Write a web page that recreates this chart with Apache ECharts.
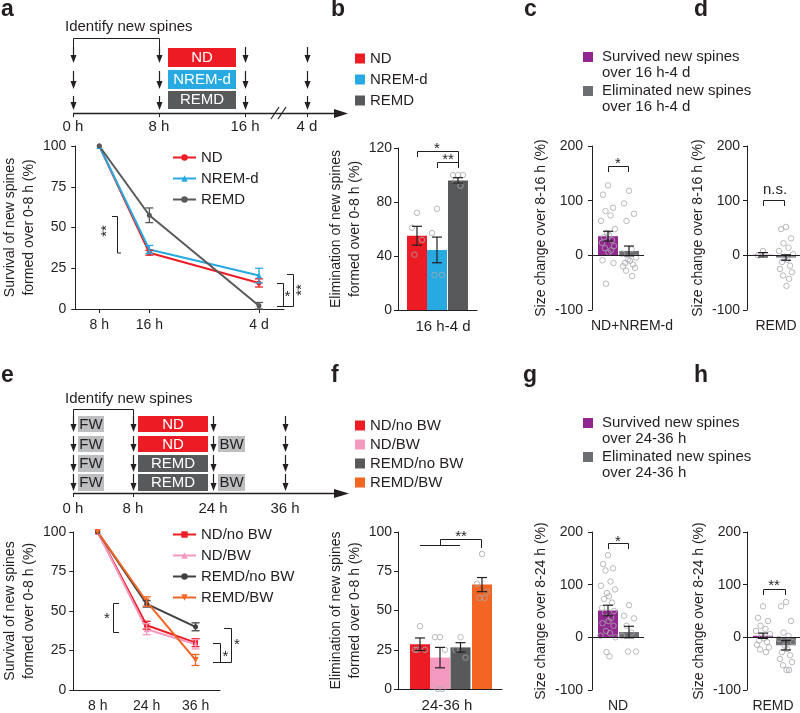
<!DOCTYPE html>
<html>
<head>
<meta charset="utf-8">
<script src="https://cdn.jsdelivr.net/npm/echarts@6.0.0/dist/echarts.min.js"></script>
<style>html,body{margin:0;padding:0;background:#fff;}#chart{width:800px;height:713px;}</style>
</head>
<body>
<div id="chart"></div>
<script>
// ================= DATA =================
// Panel a : survival of new spines
const timeA = ['8 h', '16 h', '4 d'];
const aND = [100, 34.5, 16];
const aNDErr = [0, 1.5, 2.5];
const aNREM = [100, 36.5, 20.5];
const aNREMErr = [0, 2.5, 4.5];
const aREMD = [100, 57.5, 2];
const aREMDErr = [0, 4.5, 2];
// Panel b : elimination 16 h-4 d
const groupsB = ['ND', 'NREM-d', 'REMD'];
const meanB = [55, 44.5, 96];
const errB = [7, 9.5, 2];
const dotsB_ND = [72, 61, 52, 41];
const dotsB_NREM = [75, 57, 26, 26];
const dotsB_REMD = [100, 100, 100, 96, 92];
const xLabelB = '16 h-4 d';
// Panel c : ND+NREM-d size change (survived, eliminated)
const meanC = [35, 8];
const errC = [9, 9];
const dotsC_surv = [128, 111, 87, 81, 73, 63, 48, 41, 37, 33, 28, 23, 17, 13, 9, 5, -9, -14, -52];
const dotsC_elim = [118, 95, 76, 63, 11, 3, -4, -8, -10, -14, -17, -20, -23, -28, -38];
const xLabelC = 'ND+NREM-d';
// Panel d : REMD size change
const meanD = [1, -4];
const errD = [4, 5];
const dotsD_surv = [8, 0];
const dotsD_elim = [52, 48, 31, 22, 14, 8, 2, -3, -8, -12, -19, -25, -31, -37, -43, -56];
const xLabelD = 'REMD';
// Panel e : survival with BW
const timeE = ['8 h', '24 h', '36 h'];
const namesE = ['ND/no BW', 'ND/BW', 'REMD/no BW', 'REMD/BW'];
const eNDno = [100, 41, 30];
const eNDnoErr = [0, 2.5, 2.5];
const eNDbw = [100, 38.5, 29];
const eNDbwErr = [0, 3.5, 3];
const eREMDno = [100, 54.5, 40];
const eREMDnoErr = [0, 2, 2.5];
const eREMDbw = [100, 56, 19];
const eREMDbwErr = [0, 3, 3.5];
// Panel f : elimination 24-36 h
const meanF = [28.5, 20, 26.5, 66.5];
const errF = [4, 6.5, 3, 4.5];
const dotsF_NDno = [40, 25, 25, 25];
const dotsF_NDbw = [33, 33, 25, 0, 0];
const dotsF_REMDno = [33, 25, 20];
const dotsF_REMDbw = [86, 67, 62, 58, 58];
const xLabelF = '24-36 h';
// Panel g : ND size change 8-24 h
const meanG = [51, 10];
const errG = [10, 11];
const dotsG_surv = [156, 139, 131, 127, 106, 98, 91, 84, 78, 73, 66, 56, 50, 47, 37, 31, 27, 22, 12, 8, 3, 0, -28, -36];
const dotsG_elim = [61, 41, 36, 22, 9, 3, -27, -27];
const xLabelG = 'ND';
// Panel h : REMD size change 8-24 h
const meanH = [3, -15];
const errH = [5, 9];
const dotsH_surv = [59, 37, 31, 22, 16, 12, 6, 3, -2, -6, -9, -14, -19, -23, -28];
const dotsH_elim = [67, 59, 31, 9, 3, -3, -9, -16, -22, -28, -34, -41, -47, -53, -62, -62];
const xLabelH = 'REMD';

// ================= STYLE / LAYOUT =================
const FF = "'Liberation Sans', Arial, Helvetica, sans-serif";
const INK = '#231f20';
const C_ND = '#ed1c24', C_NREM = '#27aae1', C_REMD = '#58595b', C_PUR = '#92278f', C_ELIM = '#6d6e71';
const C_PINK = '#f49ac1', C_BLK = '#414042', C_ORG = '#f26522', C_BOX = '#bcbec0', C_DOT = '#a7a9ac';
const JIT = [0, -5, 5, -2.5, 2.5, -7, 7, -1, 1, -4, 4, -6, 6, -3, 3, 0.5, -5.5, 5.5, -2, 2, -7.5, 7.5, -1.5, 1.5, -4.5, 4.5];

const grids = [
  {left: 67, top: 146, width: 217, height: 163},  // a
  {left: 398, top: 148, width: 79, height: 162},  // b
  {left: 592, top: 146, width: 52, height: 164},  // c
  {left: 747, top: 146, width: 53, height: 164},  // d
  {left: 66, top: 532, width: 154, height: 161},  // e
  {left: 398, top: 532, width: 104, height: 160}, // f
  {left: 592, top: 532, width: 52, height: 161},  // g
  {left: 747, top: 532, width: 53, height: 161}   // h
];
const posA = [25, 77, 191];
const posB = [19, 39, 60];
const posC = [16, 37];
const posD = [16, 39];
const posF = [22, 42, 62.5, 84];
const posG = [16, 37];
const posH = [16, 39];

function yAx(i, min, max, interval, name, gap, margin) {
  return {type: 'value', gridIndex: i, min, max, interval, name, nameLocation: 'middle', nameGap: gap, nameRotate: 90,
    nameTextStyle: {fontSize: 14, color: INK, fontFamily: FF, lineHeight: 19},
    axisLine: {show: true, onZero: false, lineStyle: {color: INK, width: 1}},
    axisTick: {show: true, length: 4, lineStyle: {color: INK, width: 1}},
    axisLabel: {fontSize: 14, color: INK, fontFamily: FF, margin},
    splitLine: {show: false}};
}
function xBar(i, width, labelPos, label, showLine, fs) {
  return {type: 'value', gridIndex: i, min: 0, max: width,
    axisLine: {show: showLine, onZero: false, lineStyle: {color: INK, width: 1}},
    axisTick: {show: false},
    axisLabel: {customValues: [labelPos], formatter: () => label, fontSize: fs || 14, color: INK, fontFamily: FF, margin: 9},
    splitLine: {show: false}};
}
function errSeries(i, data, color, half, w) {
  return {type: 'custom', xAxisIndex: i, yAxisIndex: i, data, silent: true, z: 6,
    renderItem: (p, api) => {
      const x = api.value(0), y = api.value(1), e = api.value(2);
      if (!e) return null;
      const t = api.coord([x, y + e]), b = api.coord([x, y - e]);
      const st = {stroke: color, lineWidth: w};
      return {type: 'group', children: [
        {type: 'line', shape: {x1: t[0], y1: t[1], x2: b[0], y2: b[1]}, style: st},
        {type: 'line', shape: {x1: t[0] - half, y1: t[1], x2: t[0] + half, y2: t[1]}, style: st},
        {type: 'line', shape: {x1: b[0] - half, y1: b[1], x2: b[0] + half, y2: b[1]}, style: st}
      ]};
    }};
}
function dotSeries(i, pos, arrays) {
  const data = [];
  arrays.forEach((arr, k) => arr.forEach((v, j) => data.push([pos[k] + JIT[j % JIT.length], v])));
  return {type: 'scatter', xAxisIndex: i, yAxisIndex: i, data, symbol: 'circle', symbolSize: 5.5, silent: true, z: 4,
    itemStyle: {color: 'rgba(255,255,255,0)', borderColor: C_DOT, borderWidth: 1}};
}
function barPanel(i, pos, means, errs, colors, names, dotArrays, zeroLine) {
  const out = [];
  means.forEach((m, k) => {
    const s = {type: 'bar', xAxisIndex: i, yAxisIndex: i, data: [[pos[k], m]], barWidth: 20, barGap: '-100%',
      itemStyle: {color: colors[k]}, z: 2, silent: true};
    if (names) s.name = names[k];
    if (zeroLine && k === 0) s.markLine = {silent: true, symbol: 'none', label: {show: false}, animation: false,
      lineStyle: {color: INK, type: 'solid', width: 1}, data: [{yAxis: 0}]};
    out.push(s);
  });
  out.push(dotSeries(i, pos, dotArrays));
  out.push(errSeries(i, pos.map((p, k) => [p, means[k], errs[k]]), INK, 5, 1.2));
  return out;
}
function lineSeries(i, name, xs, ys, errs, color, symbol, size, rot) {
  return [
    {type: 'line', name, xAxisIndex: i, yAxisIndex: i, data: xs.map((x, k) => [x, ys[k]]), symbol, symbolSize: size,
      symbolRotate: rot || 0, lineStyle: {width: 2, color}, itemStyle: {color}, z: 3, silent: true},
    errSeries(i, xs.map((x, k) => [x, ys[k], errs[k]]), color, 4, 1.3)
  ];
}

// ================= AXES =================
const yTitleSurv = 'Survival of new spines\nformed over 0-8 h (%)';
const yTitleElim = 'Elimination of new spines\nformed over 0-8 h (%)';
const xAxes = [
  {type: 'value', gridIndex: 0, min: 0, max: 217,
    axisLine: {onZero: false, lineStyle: {color: INK, width: 1}},
    axisTick: {customValues: posA, length: 4, lineStyle: {color: INK}},
    axisLabel: {customValues: posA, formatter: v => timeA[posA.indexOf(v)], fontSize: 14, color: INK, fontFamily: FF, margin: 9},
    splitLine: {show: false}},
  xBar(1, 79, 45, xLabelB, true, 15),
  xBar(2, 52, 40, xLabelC, false),
  xBar(3, 53, 29, xLabelD, false),
  {type: 'category', gridIndex: 4, data: timeE, boundaryGap: true,
    axisLine: {onZero: false, lineStyle: {color: INK, width: 1}},
    axisTick: {alignWithLabel: true, length: 4, lineStyle: {color: INK}},
    axisLabel: {fontSize: 14, color: INK, fontFamily: FF, margin: 9}},
  xBar(5, 104, 49, xLabelF, true, 15),
  xBar(6, 52, 26, xLabelG, false),
  xBar(7, 53, 26, xLabelH, false)
];
const yAxes = [
  yAx(0, 0, 100, 25, yTitleSurv, 31, 9),
  yAx(1, 0, 120, 40, yTitleElim, 30, 6),
  yAx(2, -100, 200, 100, 'Size change over 8-16 h (%)', 37, 9),
  yAx(3, -100, 200, 100, 'Size change over 8-16 h (%)', 36, 7),
  yAx(4, 0, 100, 25, yTitleSurv, 31, 7),
  yAx(5, 0, 100, 25, yTitleElim, 30, 6),
  yAx(6, -100, 200, 100, 'Size change over 8-24 h (%)', 37, 9),
  yAx(7, -100, 200, 100, 'Size change over 8-24 h (%)', 36, 6)
];

// ================= SERIES =================
let series = [];
series = series.concat(
  lineSeries(0, 'ND', posA, aND, aNDErr, C_ND, 'circle', 5),
  lineSeries(0, 'NREM-d', posA, aNREM, aNREMErr, C_NREM, 'triangle', 6),
  lineSeries(0, 'REMD', posA, aREMD, aREMDErr, C_REMD, 'circle', 5),
  lineSeries(4, namesE[0], [0, 1, 2], eNDno, eNDnoErr, C_ND, 'rect', 5),
  lineSeries(4, namesE[1], [0, 1, 2], eNDbw, eNDbwErr, C_PINK, 'triangle', 6),
  lineSeries(4, namesE[2], [0, 1, 2], eREMDno, eREMDnoErr, C_BLK, 'circle', 5),
  lineSeries(4, namesE[3], [0, 1, 2], eREMDbw, eREMDbwErr, C_ORG, 'triangle', 6, 180),
  barPanel(1, posB, meanB, errB, [C_ND, C_NREM, C_REMD], groupsB, [dotsB_ND, dotsB_NREM, dotsB_REMD], false),
  barPanel(2, posC, meanC, errC, [C_PUR, C_ELIM], null, [dotsC_surv, dotsC_elim], true),
  barPanel(3, posD, meanD, errD, [C_PUR, C_ELIM], null, [dotsD_surv, dotsD_elim], true),
  barPanel(5, posF, meanF, errF, [C_ND, C_PINK, C_REMD, C_ORG], namesE, [dotsF_NDno, dotsF_NDbw, dotsF_REMDno, dotsF_REMDbw], false),
  barPanel(6, posG, meanG, errG, [C_PUR, C_ELIM], null, [dotsG_surv, dotsG_elim], true),
  barPanel(7, posH, meanH, errH, [C_PUR, C_ELIM], null, [dotsH_surv, dotsH_elim], true)
);

// ================= LEGENDS =================
const legTxt = {fontSize: 15, color: INK, fontFamily: FF};
const legends = [
  {data: groupsB, orient: 'vertical', left: 172, top: 150, itemWidth: 23, itemHeight: 8, itemGap: 6, selectedMode: false, textStyle: legTxt, padding: 0},
  {data: groupsB.map((n, k) => ({name: n, icon: 'rect', itemStyle: {color: [C_ND, C_NREM, C_REMD][k]}})),
    orient: 'vertical', left: 355, top: 51, itemWidth: 10, itemHeight: 10, itemGap: 6, selectedMode: false, textStyle: legTxt, padding: 0},
  {data: namesE, orient: 'vertical', left: 172, top: 527, itemWidth: 23, itemHeight: 8, itemGap: 6, selectedMode: false, textStyle: legTxt, padding: 0},
  {data: namesE.map((n, k) => ({name: n, icon: 'rect', itemStyle: {color: [C_ND, C_PINK, C_REMD, C_ORG][k]}})),
    orient: 'vertical', left: 355, top: 418, itemWidth: 10, itemHeight: 10, itemGap: 4, selectedMode: false, textStyle: legTxt, padding: 0}
];

// ================= GRAPHIC (schematics, labels, significance) =================
const G = [];
const txt = (x, y, t, o = {}) => G.push({type: 'text', x, y, z: 20, silent: true,
  style: Object.assign({text: t, fill: INK, fontSize: 15, fontFamily: FF, align: 'center', verticalAlign: 'middle'}, o)});
const seg = (pts, o = {}) => G.push({type: 'polyline', z: 20, silent: true, shape: {points: pts},
  style: Object.assign({stroke: INK, lineWidth: 1, fill: null}, o)});
const box = (x, y, w, h, fill) => G.push({type: 'rect', z: 19, silent: true, shape: {x, y, width: w, height: h}, style: {fill}});
const tri = (pts) => G.push({type: 'polygon', z: 20, silent: true, shape: {points: pts}, style: {fill: INK}});
const arrow = (x, y1, y2) => { seg([[x, y1], [x, y2 - 6]], {lineWidth: 1.2}); tri([[x - 3, y2 - 8], [x + 3, y2 - 8], [x, y2]]); };
const star = (x, y, t) => txt(x, y + 4, t, {fontSize: 15});
const vstar = (x, y, t) => G.push({type: 'text', x: x + 4, y, rotation: Math.PI / 2, z: 20, silent: true,
  style: {text: t, fill: INK, fontSize: 15, fontFamily: FF, align: 'center', verticalAlign: 'middle'}});
const letter = (x, y, t) => txt(x, y, t, {align: 'left', fontSize: 23, fontWeight: 'bold'});

letter(1, 10, 'a'); letter(331, 10, 'b'); letter(524, 10, 'c'); letter(694, 10, 'd');
letter(1, 376, 'e'); letter(331, 376, 'f'); letter(523, 376, 'g'); letter(694, 376, 'h');

// --- timeline a ---
txt(65, 27, 'Identify new spines', {align: 'left'});
seg([[73.5, 47], [73.5, 38.5], [159.5, 38.5], [159.5, 47]]);
[73.5, 159.5, 245.5, 307.5].forEach(x => [[47, 63], [71, 89], [96, 110]].forEach(r => arrow(x, r[0], r[1])));
box(168, 48, 68, 19, C_ND); txt(202, 57.5, 'ND', {fill: '#fff'});
box(168, 70, 68, 19, C_NREM); txt(202, 79.5, 'NREM-d', {fill: '#fff'});
box(168, 91, 68, 18, C_REMD); txt(202, 100, 'REMD', {fill: '#fff'});
seg([[73, 113.5], [336, 113.5]], {lineWidth: 1.5});
tri([[334, 109], [334, 118], [348, 113.5]]);
[73.5, 159.5, 245.5, 307.5].forEach(x => seg([[x, 113], [x, 117]]));
seg([[271, 119], [279, 107]], {lineWidth: 1.2}); seg([[278, 119], [286, 107]], {lineWidth: 1.2});
txt(73, 127, '0 h'); txt(159, 127, '8 h'); txt(245, 127, '16 h'); txt(307, 127, '4 d');

// --- timeline e ---
txt(65, 399, 'Identify new spines', {align: 'left'});
seg([[73.5, 416], [73.5, 409.5], [133.5, 409.5], [133.5, 416]]);
const rowsE = [[416, 432], [436, 452], [455, 472], [474, 491]];
[73.5, 133.5, 213.5, 285.5].forEach(x => rowsE.forEach(r => arrow(x, r[0], r[1])));
rowsE.forEach((r, k) => {
  box(78, r[0], 26, r[1] - r[0], C_BOX); txt(91, (r[0] + r[1]) / 2 + 0.5, 'FW');
  const c = k < 2 ? C_ND : C_REMD;
  box(138, r[0], 70, r[1] - r[0], c); txt(173, (r[0] + r[1]) / 2 + 0.5, k < 2 ? 'ND' : 'REMD', {fill: '#fff'});
  if (k === 1 || k === 3) { box(218, r[0], 27, r[1] - r[0], C_BOX); txt(231.5, (r[0] + r[1]) / 2 + 0.5, 'BW'); }
});
seg([[73, 493.5], [336, 493.5]], {lineWidth: 1.5});
tri([[334, 489], [334, 498], [349, 493.5]]);
[73.5, 133.5].forEach(x => seg([[x, 493], [x, 497]]));
txt(73, 509, '0 h'); txt(133, 509, '8 h'); txt(213, 509, '24 h'); txt(285, 509, '36 h');

// --- legends c and g ---
[[52, 'over 16 h-4 d', 0], [418, 'over 24-36 h', 366]].forEach(([y0, sub, dy]) => {
  box(583, y0, 10, 10, C_PUR);
  txt(602, 57 + dy, 'Survived new spines', {align: 'left'});
  txt(602, 73 + dy, sub, {align: 'left'});
  box(583, y0 + 34, 10, 10, C_ELIM);
  txt(602, 91 + dy, 'Eliminated new spines', {align: 'left'});
  txt(602, 107 + dy, sub, {align: 'left'});
});

// --- significance a ---
seg([[112, 216.5], [117.5, 216.5], [117.5, 253], [121, 253]]);
vstar(103, 231, '**');
seg([[277, 283.5], [283.5, 283.5], [283.5, 306.5], [277, 306.5]]);
star(287.5, 293, '*');
seg([[287, 274.5], [293.5, 274.5], [293.5, 306.5], [283, 306.5]]);
vstar(298, 290, '**');
// --- significance b ---
seg([[417.5, 157], [417.5, 151.5], [458.5, 151.5], [458.5, 168]]);
seg([[437.5, 168], [437.5, 162.5], [458.5, 162.5]]);
star(437, 145, '*'); star(448, 156, '**');
// --- significance c, d ---
seg([[608.5, 172], [608.5, 166.5], [628.5, 166.5], [628.5, 172]]); star(618, 160, '*');
seg([[763.5, 206], [763.5, 200.5], [784.5, 200.5], [784.5, 206]]); txt(775, 190, 'n.s.');
// --- significance e ---
seg([[119, 603.5], [113.5, 603.5], [113.5, 632.5], [119, 632.5]]); star(107, 615, '*');
seg([[213, 643.5], [220.5, 643.5], [220.5, 662.5], [213, 662.5]]); star(225.5, 653, '*');
seg([[224, 628.5], [231.5, 628.5], [231.5, 662.5], [220, 662.5]]); star(237, 641, '*');
// --- significance f, g, h ---
seg([[420, 545.5], [460, 545.5]]);
seg([[440.5, 545], [440.5, 539.5], [481.5, 539.5], [481.5, 548]]); star(461, 533, '**');
seg([[608.5, 549], [608.5, 543.5], [628.5, 543.5], [628.5, 549]]); star(618, 538, '*');
seg([[763.5, 595], [763.5, 589.5], [785.5, 589.5], [785.5, 595]]); star(774, 582, '**');

// ================= CHART =================
const chart = echarts.init(document.getElementById('chart'), null, {renderer: 'canvas'});
chart.setOption({
  animation: false,
  backgroundColor: '#fff',
  textStyle: {fontFamily: FF},
  grid: grids,
  xAxis: xAxes,
  yAxis: yAxes,
  legend: legends,
  series,
  graphic: {elements: G}
});
</script>
</body>
</html>
